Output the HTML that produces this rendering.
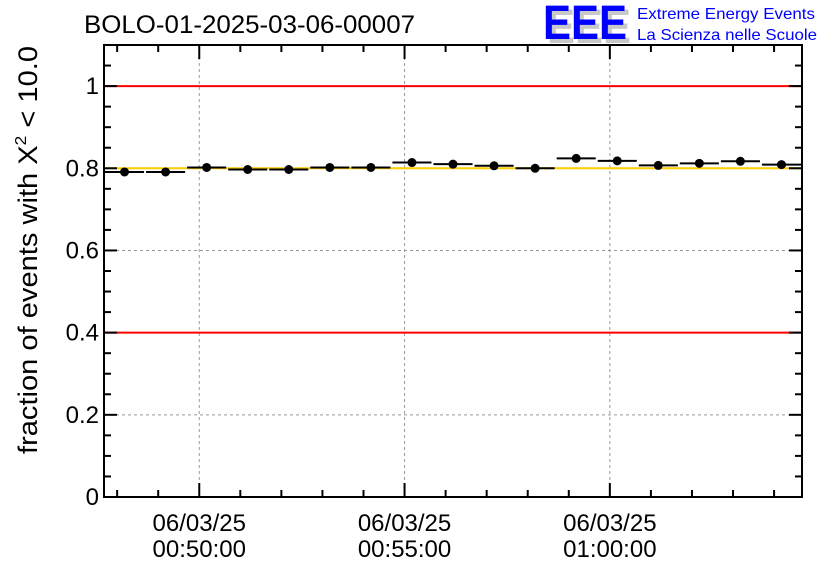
<!DOCTYPE html>
<html><head><meta charset="utf-8"><style>
body{margin:0;background:#fff;}
svg{display:block;font-family:"Liberation Sans",sans-serif;}
</style></head><body>
<svg id="c" width="836" height="572" xmlns="http://www.w3.org/2000/svg">
<text x="84" y="33" font-size="25" textLength="331" lengthAdjust="spacingAndGlyphs">BOLO-01-2025-03-06-00007</text>
<g>
<text x="547" y="43" font-size="48" font-weight="bold" fill="#c8c8c8" textLength="84" lengthAdjust="spacingAndGlyphs">EEE</text>
<text x="543" y="39" font-size="48" font-weight="bold" fill="#0000ff" textLength="84" lengthAdjust="spacingAndGlyphs">EEE</text>
<text x="637" y="19" font-size="16" fill="#0000ff" textLength="178" lengthAdjust="spacingAndGlyphs">Extreme Energy Events</text>
<text x="637" y="40" font-size="16" fill="#0000ff" textLength="180" lengthAdjust="spacingAndGlyphs">La Scienza nelle Scuole</text>
</g>
<text transform="translate(37,250) rotate(-90)" text-anchor="middle" font-size="27" textLength="408" lengthAdjust="spacingAndGlyphs">fraction of events with X<tspan dy="-11" font-size="16">2</tspan><tspan dy="11"> &lt; 10.0</tspan></text>
<g id="grid"></g><g id="axes"></g><g id="marks"></g>
</svg>
<script>
const values=[0.791,0.791,0.802,0.797,0.797,0.802,0.802,0.814,0.810,0.806,0.800,0.824,0.818,0.807,0.812,0.817,0.809];
const yTicks=[0,0.2,0.4,0.6,0.8,1];
const yTickLabels=["0","0.2","0.4","0.6","0.8","1"];
const xTickDates=["06/03/25","06/03/25","06/03/25"];
const xTickTimes=["00:50:00","00:55:00","01:00:00"];
const xTickMinutes=[2.32,7.32,12.32];
const redLines=[0.4,1.0];
const goldLine=0.8;
const L=104,R=802,T=45,B=497,NS="http://www.w3.org/2000/svg";
const totalMin=values.length;
const xs=m=>L+(R-L)*m/totalMin;
const ys=v=>B-(B-T)*v/1.1;
function mk(par,tag,at){const e=document.createElementNS(NS,tag);for(const k in at)e.setAttribute(k,at[k]);document.getElementById(par).appendChild(e);return e;}
xTickMinutes.forEach(m=>{const e=mk('grid','line',{x1:xs(m),x2:xs(m),y1:T,y2:B,stroke:'#999','stroke-dasharray':'3,3'});

});
yTicks.slice(1).forEach(v=>{if(v===1||v===0.4||v===0.8)return;const e=mk('grid','line',{x1:L,x2:R,y1:ys(v),y2:ys(v),stroke:'#999','stroke-dasharray':'3,3'});

});
redLines.forEach(v=>{const e=mk('grid','line',{x1:L,x2:R,y1:ys(v),y2:ys(v),stroke:'#ff0000','stroke-width':2});

});
{const e=mk('grid','line',{x1:L,x2:R,y1:ys(goldLine),y2:ys(goldLine),stroke:'#ffcc00','stroke-width':2});

}
{const e=mk('axes','rect',{x:L,y:T,width:R-L,height:B-T,fill:'none',stroke:'#000','stroke-width':2});

}
for(let i=0;i<=22;i++){const v=i*0.05,y=ys(v),len=(i%4===0)?13:7;
mk('axes','line',{x1:L,x2:L+len,y1:y,y2:y,stroke:'#000','stroke-width':2});
mk('axes','line',{x1:R-len,x2:R,y1:y,y2:y,stroke:'#000','stroke-width':2});}
yTicks.forEach((v,i)=>{const t=mk('axes','text',{x:L-5,y:ys(v)+8,'text-anchor':'end','font-size':24});t.textContent=yTickLabels[i];

});
const off=xTickMinutes[0]%1;
for(let m=off;m<=totalMin;m+=1){const x=xs(m),major=xTickMinutes.some(t=>Math.abs(t-m)<0.01),len=major?14:7;
mk('axes','line',{x1:x,x2:x,y1:B-len,y2:B,stroke:'#000','stroke-width':2});
mk('axes','line',{x1:x,x2:x,y1:T,y2:T+len,stroke:'#000','stroke-width':2});}
xTickMinutes.forEach((m,i)=>{const a=mk('axes','text',{x:xs(m),y:531,'text-anchor':'middle','font-size':24});a.textContent=xTickDates[i];


const b=mk('axes','text',{x:xs(m),y:557,'text-anchor':'middle','font-size':24});b.textContent=xTickTimes[i];

});
values.forEach((v,i)=>{const y=ys(v);
const l=mk('marks','line',{x1:xs(i)+1,x2:xs(i+1)-1,y1:y,y2:y,stroke:'#000','stroke-width':2});


const c=mk('marks','circle',{cx:xs(i+0.5),cy:y,r:4.5,fill:'#000'});

});
</script>
</body></html>
